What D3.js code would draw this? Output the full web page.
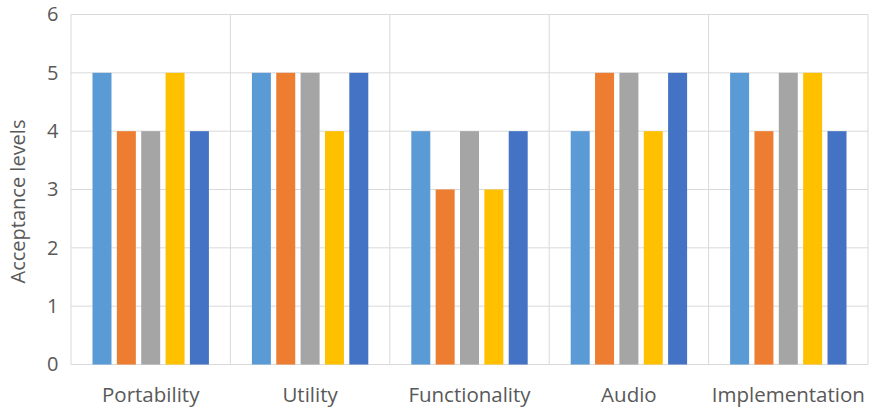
<!DOCTYPE html>
<html>
<head>
<meta charset="utf-8">
<script src="https://cdn.jsdelivr.net/npm/d3@7"></script>
<style>
  html, body { margin: 0; padding: 0; background: #fff; }
  svg { display: block; font-family: "Open Sans", "Noto Sans", sans-serif; }
</style>
</head>
<body>
<svg id="chart" width="872" height="409"></svg>
<script>
// Acceptance levels per aspect, five ratings each
const categories = ["Portability", "Utility", "Functionality", "Audio", "Implementation"];
const seriesNames = ["S1", "S2", "S3", "S4", "S5"];
const seriesColors = ["#5B9BD5", "#ED7D31", "#A5A5A5", "#FFC000", "#4472C4"];
const s1 = [5, 5, 4, 4, 5];
const s2 = [4, 5, 3, 5, 4];
const s3 = [4, 5, 4, 5, 5];
const s4 = [5, 4, 3, 4, 5];
const s5 = [4, 5, 4, 5, 4];
const seriesValues = [s1, s2, s3, s4, s5];
const yTicks = [0, 1, 2, 3, 4, 5, 6];
const yTitle = "Acceptance levels";

const svg = d3.select("#chart");
const plotLeft = 71, plotRight = 868, plotTop = 14.5, plotBottom = 364.5;

const x0 = d3.scaleBand().domain(categories).range([plotLeft, plotRight]).padding(0);
const groupPad = 21.5;
const x1 = d3.scaleBand().domain(seriesNames)
  .range([groupPad, x0.bandwidth() - groupPad]).paddingInner(0.22).paddingOuter(0);
const y = d3.scaleLinear().domain([0, 6]).range([plotBottom, plotTop]);

const grid = "#d9d9d9";
const textColor = "#595959";

// horizontal gridlines
svg.append("g").selectAll("line").data(yTicks).join("line")
  .attr("x1", plotLeft).attr("x2", plotRight)
  .attr("y1", d => y(d)).attr("y2", d => y(d))
  .attr("stroke", grid).attr("stroke-width", 1);

// vertical category separators
const seps = categories.map(c => x0(c)).concat([plotRight]);
svg.append("g").selectAll("line").data(seps).join("line")
  .attr("x1", d => d).attr("x2", d => d)
  .attr("y1", y(6)).attr("y2", y(0))
  .attr("stroke", grid).attr("stroke-width", 1);

// bars
const rows = [];
categories.forEach((c, i) => seriesNames.forEach((s, j) => rows.push({ c, s, j, v: seriesValues[j][i] })));
svg.append("g").selectAll("rect").data(rows).join("rect")
  .attr("x", d => x0(d.c) + x1(d.s))
  .attr("width", x1.bandwidth())
  .attr("y", d => y(d.v))
  .attr("height", d => y(0) - y(d.v))
  .attr("fill", d => seriesColors[d.j]);

// y axis labels
const yAxis = d3.axisLeft(y).tickValues(yTicks).tickSize(0).tickPadding(12.5).tickFormat(d3.format("d"));
const ya = svg.append("g").attr("transform", `translate(${plotLeft},0)`).call(yAxis);
ya.select(".domain").remove();
ya.selectAll("text").attr("font-size", 20).attr("fill", textColor)
  .attr("font-family", "Open Sans, sans-serif");

// x axis labels
const xAxis = d3.axisBottom(x0).tickSize(0).tickPadding(23);
const xa = svg.append("g").attr("transform", `translate(0,${plotBottom})`).call(xAxis);
xa.select(".domain").remove();
xa.selectAll("text").attr("font-size", 20.5).attr("fill", textColor)
  .attr("font-family", "Open Sans, sans-serif");

// y title
svg.append("text")
  .attr("transform", `translate(25,${(plotTop + plotBottom) / 2 + 12}) rotate(-90)`)
  .attr("text-anchor", "middle")
  .attr("font-size", 20).attr("fill", textColor)
  .text(yTitle);
</script>
</body>
</html>
